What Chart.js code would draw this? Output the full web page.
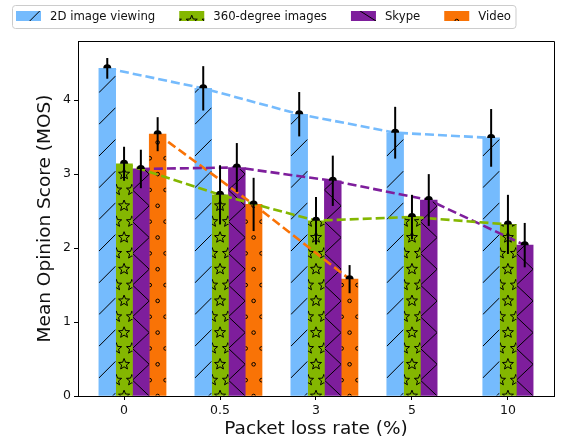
<!DOCTYPE html>
<html>
<head>
<meta charset="utf-8">
<script src="https://cdn.jsdelivr.net/npm/chart.js@4.4.1/dist/chart.umd.min.js"></script>
<style>
  html, body { margin: 0; padding: 0; background: #fff; }
  #wrap { width: 587px; height: 444px; }
</style>
</head>
<body>
<div id="wrap"><canvas id="c" width="587" height="444"></canvas></div>
<script>
// Packet loss rates (category labels on the x axis)
const categories = ['0', '0.5', '3', '5', '10'];
const seriesNames = ['2D image viewing', '360-degree images', 'Skype', 'Video'];

// Mean opinion scores and their error half-widths per service
const mos2D     = [4.43, 4.16, 3.81, 3.56, 3.49];
const err2D     = [0.14, 0.30, 0.30, 0.35, 0.39];
const mos360    = [3.14, 2.72, 2.37, 2.42, 2.32];
const err360    = [0.23, 0.40, 0.32, 0.30, 0.40];
const mosSkype  = [3.07, 3.09, 2.91, 2.65, 2.04];
const errSkype  = [0.26, 0.33, 0.34, 0.35, 0.30];
const mosVideo  = [3.54, 2.59, 1.58, null, null];
const errVideo  = [0.23, 0.36, 0.19, null, null];

const yTicks = [0, 1, 2, 3, 4];

// ---- styling ----
const colors  = ['#75bbfd', '#84b701', '#7e1e9c', '#f97306'];
const hatches = ['slash', 'star', 'zigzag', 'ring'];
const BAR_STEP = 0.175;               // bar width in category units
const FONT = "'DejaVu Sans', 'Liberation Sans', sans-serif";
const HATCH_P = 31.7;                 // hatch repeat, px

const means  = [mos2D, mos360, mosSkype, mosVideo];
const errors = [err2D, err360, errSkype, errVideo];

function pts(vals, k) {
  return vals.map((v, i) => ({ x: i + (k - 1) * BAR_STEP, y: v }));
}

function starPath(ctx, x, y, R, r) {
  for (let i = 0; i < 10; i++) {
    const a = -Math.PI / 2 + i * Math.PI / 5;
    const rad = i % 2 === 0 ? R : r;
    const px = x + rad * Math.cos(a), py = y + rad * Math.sin(a);
    if (i === 0) ctx.moveTo(px, py); else ctx.lineTo(px, py);
  }
  ctx.closePath();
}

// Draw a hatch pattern inside a rectangle, anchored on the rectangle's base
function drawHatch(ctx, kind, left, right, top, bottom, baseY) {
  ctx.save();
  ctx.beginPath();
  ctx.rect(left, top, right - left, bottom - top);
  ctx.clip();
  ctx.strokeStyle = '#000';
  ctx.lineWidth = 1;
  const w = right - left, cx = (left + right) / 2;
  const P = HATCH_P, S = P / 2;
  if (kind === 'slash') {
    ctx.beginPath();
    for (let c = baseY - 18 + 2 * P; c > top - P; c -= P) {
      ctx.moveTo(left, c);
      ctx.lineTo(right, c - w);
    }
    ctx.stroke();
  } else if (kind === 'zigzag') {
    ctx.beginPath();
    let y = baseY + P;
    ctx.moveTo(right, y);
    while (y > top - P) {
      ctx.lineTo(left, y - S);
      ctx.lineTo(right, y - P);
      y -= P;
    }
    ctx.stroke();
  } else {
    for (let k = -1; baseY - k * S > top - S; k++) {
      const y = baseY - k * S;
      const shift = (Math.abs(k) % 2 === 0) ? 0 : S / 2;
      for (let m = -2; m <= 2; m++) {
        const x = cx + shift + m * S;
        ctx.beginPath();
        if (kind === 'star') {
          starPath(ctx, x, y, 5.8, 2.5);
        } else {
          ctx.arc(x, y, 1.8, 0, Math.PI * 2);
        }
        ctx.stroke();
      }
    }
  }
  ctx.restore();
}

const barSets = means.map((vals, k) => ({
  type: 'bar',
  label: seriesNames[k],
  data: pts(vals, k),
  backgroundColor: colors[k],
  borderWidth: 0,
  grouped: false,
  barPercentage: 1,
  categoryPercentage: 1,
  order: 2,
  hatch: hatches[k]
}));

const lineSets = means.map((vals, k) => ({
  type: 'line',
  label: seriesNames[k] + ' trend',
  data: pts(vals, k),
  borderColor: colors[k],
  borderWidth: 2.6,
  borderDash: [9, 4],
  pointRadius: 0,
  fill: false,
  tension: 0,
  spanGaps: false,
  order: 1
}));

// hatching applied right after each bar dataset is painted
const hatchPlugin = {
  id: 'hatch',
  afterDatasetDraw(chart, args) {
    const ds = chart.data.datasets[args.index];
    if (!ds.hatch) return;
    const ctx = chart.ctx;
    const base = chart.scales.y.getPixelForValue(0);
    ctx.save();
    ctx.beginPath();
    const ca = chart.chartArea;
    ctx.rect(ca.left, ca.top, ca.right - ca.left, ca.bottom - ca.top);
    ctx.clip();
    args.meta.data.forEach((bar, i) => {
      if (ds.data[i].y == null) return;
      const p = bar.getProps(['x', 'y', 'base', 'width'], true);
      drawHatch(ctx, ds.hatch, p.x - p.width / 2, p.x + p.width / 2, p.y, p.base, base);
    });
    ctx.restore();
  }
};

// error bars with a mean marker on every bar
const errorPlugin = {
  id: 'errbars',
  afterDatasetsDraw(chart) {
    const ctx = chart.ctx, ys = chart.scales.y;
    chart.data.datasets.forEach((ds, d) => {
      if (ds.type !== 'bar') return;
      const k = barSets.indexOf(ds);
      const meta = chart.getDatasetMeta(d);
      meta.data.forEach((bar, i) => {
        const v = means[k][i], e = errors[k][i];
        if (v == null) return;
        const x = bar.x;
        ctx.save();
        ctx.strokeStyle = '#000';
        ctx.lineWidth = 2;
        ctx.beginPath();
        ctx.moveTo(x, ys.getPixelForValue(v + e));
        ctx.lineTo(x, ys.getPixelForValue(v - e));
        ctx.stroke();
        ctx.fillStyle = '#000';
        ctx.beginPath();
        ctx.arc(x, ys.getPixelForValue(v), 4, Math.PI, 2 * Math.PI);
        ctx.closePath();
        ctx.fill();
        ctx.restore();
      });
    });
  }
};

// top and right frame lines plus the boxed legend
const framePlugin = {
  id: 'frame',
  afterDraw(chart) {
    const ctx = chart.ctx, ca = chart.chartArea;
    ctx.save();
    ctx.strokeStyle = '#000';
    ctx.lineWidth = 1;
    ctx.beginPath();
    ctx.moveTo(ca.left, ca.top + 0.5);
    ctx.lineTo(ca.right + 0.5, ca.top + 0.5);
    ctx.lineTo(ca.right + 0.5, ca.bottom);
    ctx.stroke();

    // legend
    ctx.font = '11.7px ' + FONT;
    let x = 16;
    const items = [];
    seriesNames.forEach((name, k) => {
      const tw = ctx.measureText(name).width;
      items.push({ x, tx: x + 34, tw, k });
      x = x + 34 + tw + 24;
    });
    const last = items[items.length - 1];
    const boxL = 12.5, boxT = 5.5, boxR = last.tx + last.tw + 5, boxB = 28.5;
    ctx.beginPath();
    ctx.roundRect(boxL, boxT, boxR - boxL, boxB - boxT, 3);
    ctx.fillStyle = 'rgba(255,255,255,0.8)';
    ctx.fill();
    ctx.strokeStyle = '#cccccc';
    ctx.stroke();
    items.forEach(it => {
      ctx.fillStyle = colors[it.k];
      ctx.fillRect(it.x, 11, 25, 10);
      drawHatch(ctx, hatches[it.k], it.x, it.x + 25, 11, 21, 21);
      ctx.fillStyle = '#111';
      ctx.textBaseline = 'middle';
      ctx.textAlign = 'left';
      ctx.fillText(seriesNames[it.k], it.tx, 16.5);
    });
    ctx.restore();
  }
};

new Chart(document.getElementById('c'), {
  type: 'bar',
  data: { datasets: [...barSets, ...lineSets] },
  options: {
    responsive: false,
    animation: false,
    devicePixelRatio: 1,
    layout: { padding: { left: 0, right: 33, top: 41, bottom: 0 } },
    plugins: { legend: { display: false }, tooltip: { enabled: false } },
    scales: {
      x: {
        type: 'linear',
        min: -0.48,
        max: 4.48,
        offset: false,
        afterBuildTicks: s => { s.ticks = categories.map((_, i) => ({ value: i })); },
        afterFit: s => { s.height = 48; },
        ticks: {
          callback: v => categories[v],
          font: { family: FONT, size: 12.5 },
          color: '#111',
          padding: 3,
          maxRotation: 0
        },
        grid: { drawOnChartArea: false, drawTicks: true, tickLength: 4, tickColor: '#000', offset: false },
        border: { display: true, color: '#000', width: 1 },
        title: {
          display: true,
          text: 'Packet loss rate (%)',
          font: { family: FONT, size: 18.5 },
          color: '#111',
          padding: { top: 0, bottom: 4 }
        }
      },
      y: {
        min: 0,
        max: 4.8,
        afterBuildTicks: s => { s.ticks = yTicks.map(v => ({ value: v })); },
        afterFit: s => { s.width = 78; },
        ticks: {
          font: { family: FONT, size: 12.5 },
          color: '#111',
          padding: 3
        },
        grid: { drawOnChartArea: false, drawTicks: true, tickLength: 4, tickColor: '#000' },
        border: { display: true, color: '#000', width: 1 },
        title: {
          display: true,
          text: 'Mean Opinion Score (MOS)',
          font: { family: FONT, size: 18.5 },
          color: '#111',
          padding: { top: 34, bottom: 0 }
        }
      }
    }
  },
  plugins: [hatchPlugin, errorPlugin, framePlugin]
});
</script>
</body>
</html>
